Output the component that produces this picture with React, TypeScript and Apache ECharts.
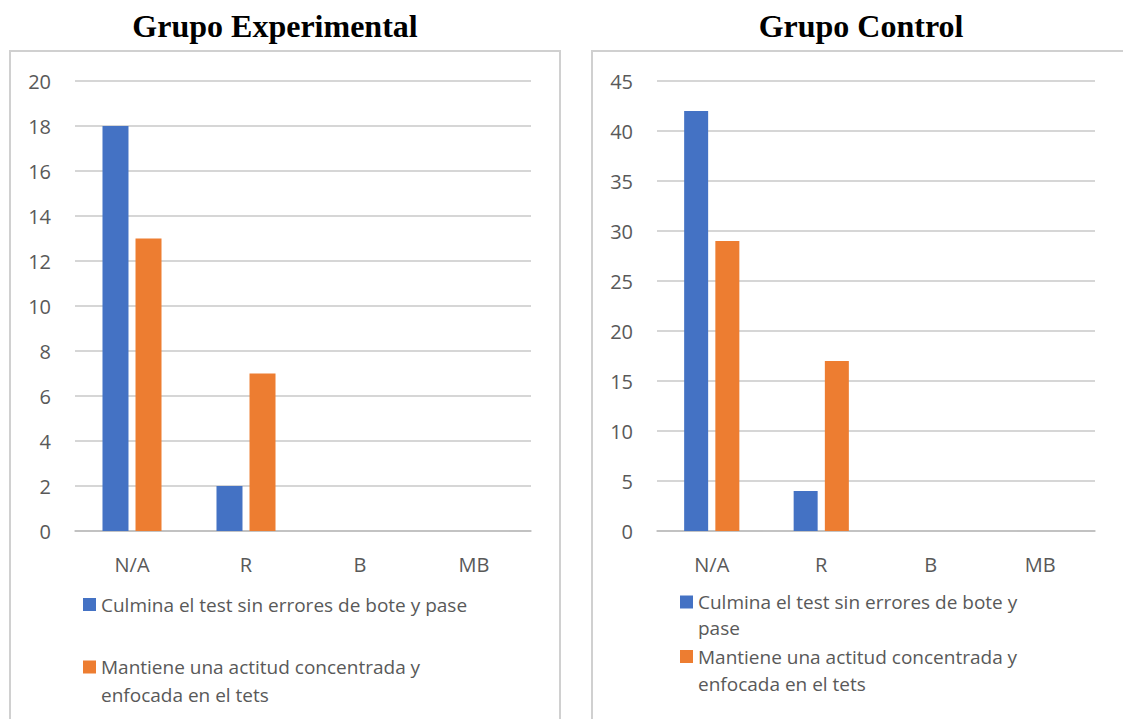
import React, { useEffect, useRef } from "react";
import * as echarts from "echarts";

const categories = ["N/A", "R", "B", "MB"];
const seriesNames = [
  "Culmina el test sin errores de bote y pase",
  "Mantiene una actitud concentrada y enfocada en el tets",
];
const expCulmina = [18, 2, 0, 0];
const expMantiene = [13, 7, 0, 0];
const ctrlCulmina = [42, 4, 0, 0];
const ctrlMantiene = [29, 17, 0, 0];
const titles = ["Grupo Experimental", "Grupo Control"];
const expMax = 20;
const expStep = 2;
const ctrlMax = 45;
const ctrlStep = 5;

const BLUE = "#4472C4";
const ORANGE = "#ED7D31";
const FONT = "'Open Sans', 'Noto Sans', sans-serif";
const LABEL = "#595959";

export default function App() {
  const ref = useRef<HTMLDivElement>(null);
  useEffect(() => {
    const chart = echarts.init(ref.current!, null, { renderer: "svg" });
    const axisLabel = { color: LABEL, fontSize: 20, fontFamily: FONT };
    const xAxisCommon = {
      type: "category",
      data: categories,
      axisTick: { show: false },
      axisLine: { show: true, lineStyle: { color: "#bcbcbc", width: 1.5 } },
      axisLabel: { ...axisLabel, margin: 23 },
      splitLine: { show: false },
    };
    const yAxisCommon = {
      type: "value",
      min: 0,
      axisLine: { show: false },
      axisTick: { show: false },
      axisLabel: { ...axisLabel, margin: 24 },
      splitLine: { show: true, lineStyle: { color: "#c8c8c8", width: 1.5 } },
    };
    const legendText = (extra: any = {}) => ({
      color: LABEL,
      fontSize: 19,
      fontFamily: FONT,
      lineHeight: 28,
      ...extra,
    });
    const legendBase = {
      orient: "vertical",
      icon: "rect",
      itemWidth: 13,
      itemHeight: 13,
      padding: 0,
      selectedMode: false,
    };
    const titleStyle = {
      fontFamily: "'Liberation Serif', serif",
      fontWeight: "bold",
      fontSize: 32,
      color: "#000",
    };
    const option: any = {
      animation: false,
      backgroundColor: "#ffffff",
      title: [
        { text: titles[0], left: 270, top: 5, textAlign: "center", textStyle: titleStyle },
        { text: titles[1], left: 856, top: 5, textAlign: "center", textStyle: titleStyle },
      ],
      graphic: [
        { type: "rect", shape: { x: 10, y: 51, width: 550, height: 720 }, style: { fill: "none", stroke: "#d0d0d0", lineWidth: 2 }, silent: true },
        { type: "rect", shape: { x: 592, y: 51, width: 600, height: 720 }, style: { fill: "none", stroke: "#d0d0d0", lineWidth: 2 }, silent: true },
      ],
      grid: [
        { left: 75, top: 81, width: 456, height: 450 },
        { left: 657, top: 81, width: 438, height: 450 },
      ],
      xAxis: [
        { ...xAxisCommon, gridIndex: 0 },
        { ...xAxisCommon, gridIndex: 1 },
      ],
      yAxis: [
        { ...yAxisCommon, gridIndex: 0, max: expMax, interval: expStep },
        { ...yAxisCommon, gridIndex: 1, max: ctrlMax, interval: ctrlStep },
      ],
      legend: [
        {
          ...legendBase,
          data: [seriesNames[0]],
          left: 83,
          top: 595,
          textStyle: legendText({ lineHeight: 19 }),
        },
        {
          ...legendBase,
          data: [seriesNames[1]],
          left: 83,
          top: 625,
          formatter: () => "\nMantiene una actitud concentrada y\nenfocada en el tets",
          textStyle: legendText(),
        },
        {
          ...legendBase,
          data: [seriesNames[0]],
          left: 680,
          top: 563,
          formatter: () => "\nCulmina el test sin errores de bote y\npase",
          textStyle: legendText({ lineHeight: 26 }),
        },
        {
          ...legendBase,
          data: [seriesNames[1]],
          left: 680,
          top: 616,
          formatter: () => "\nMantiene una actitud concentrada y\nenfocada en el tets",
          textStyle: legendText({ lineHeight: 27 }),
        },
      ],
      series: [
        { name: seriesNames[0], type: "bar", xAxisIndex: 0, yAxisIndex: 0, data: expCulmina, barWidth: 26, barGap: "27%", itemStyle: { color: BLUE } },
        { name: seriesNames[1], type: "bar", xAxisIndex: 0, yAxisIndex: 0, data: expMantiene, barWidth: 26, barGap: "27%", itemStyle: { color: ORANGE } },
        { name: seriesNames[0], type: "bar", xAxisIndex: 1, yAxisIndex: 1, data: ctrlCulmina, barWidth: 24, barGap: "30%", itemStyle: { color: BLUE } },
        { name: seriesNames[1], type: "bar", xAxisIndex: 1, yAxisIndex: 1, data: ctrlMantiene, barWidth: 24, barGap: "30%", itemStyle: { color: ORANGE } },
      ],
    };
    chart.setOption(option);
    return () => chart.dispose();
  }, []);
  return (
    <div
      ref={ref}
      style={{ position: "fixed", left: 0, top: 0, width: 1123, height: 719, background: "#fff" }}
    />
  );
}
